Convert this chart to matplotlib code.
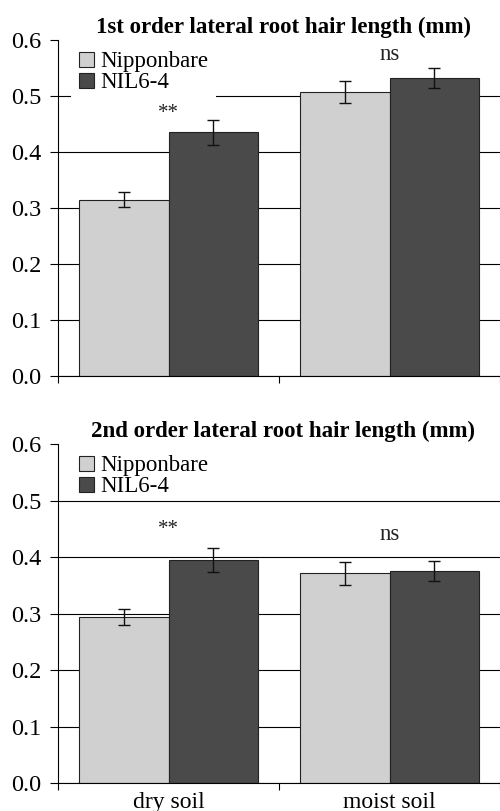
import numpy as np
import matplotlib
matplotlib.use("Agg")
import matplotlib.pyplot as plt
from matplotlib.ticker import FormatStrFormatter

plt.rcParams["font.family"] = ["Liberation Serif", "DejaVu Serif"]

categories = ["dry soil", "moist soil"]
series = ["Nipponbare", "NIL6-4"]
colors = ["#d0d0d0", "#4a4a4a"]

titles = ["1st order lateral root hair length (mm)",
          "2nd order lateral root hair length (mm)"]

# top panel: 1st order
first_means = {"Nipponbare": [0.315, 0.507], "NIL6-4": [0.435, 0.532]}
first_errs = {"Nipponbare": [0.014, 0.019], "NIL6-4": [0.022, 0.018]}
first_marks = ["**", "ns"]
first_mark_y = [0.468, 0.574]

# bottom panel: 2nd order
second_means = {"Nipponbare": [0.294, 0.371], "NIL6-4": [0.395, 0.375]}
second_errs = {"Nipponbare": [0.0145, 0.0195], "NIL6-4": [0.021, 0.0175]}
second_marks = ["**", "ns"]
second_mark_y = [0.448, 0.440]

yticks = [0.0, 0.1, 0.2, 0.3, 0.4, 0.5, 0.6]

fig = plt.figure(figsize=(5.0, 8.11), dpi=100)
ax1 = fig.add_axes([0.116, 0.5364, 0.884, 0.4143])
ax2 = fig.add_axes([0.116, 0.0342, 0.884, 0.4183])

width = 0.403
centers = np.arange(len(categories)) + 0.5


def draw_panel(ax, means, errs, marks, mark_y, title, show_xlabels, legend_bg):
    for k, name in enumerate(series):
        offs = (k - 0.5) * width
        ax.bar(centers + offs, means[name], width, color=colors[k],
               edgecolor="#222222", linewidth=0.8, label=name, zorder=2)
        ax.errorbar(centers + offs, means[name], yerr=errs[name], fmt="none",
                    ecolor="#111111", elinewidth=1.0, capsize=4, capthick=1.0,
                    zorder=3)
    for c, m, y in zip(centers, marks, mark_y):
        fs = 15 if m == "**" else 16.5
        ax.text(c, y, m, ha="center", va="center", fontsize=fs, color="#222222")

    ax.set_xlim(0, len(categories))
    ax.set_ylim(0, 0.6)
    ax.set_yticks(yticks)
    ax.yaxis.set_major_formatter(FormatStrFormatter("%.1f"))
    ax.tick_params(axis="y", length=6, width=0.8, pad=6, labelsize=17.5)
    ax.set_xticks(np.arange(len(categories) + 1))
    ax.set_xticklabels([])
    ax.tick_params(axis="x", which="major", length=5, width=0.8)
    ax.set_xticks(centers, minor=True)
    if show_xlabels:
        ax.set_xticklabels(categories, minor=True)
    ax.tick_params(axis="x", which="minor", length=0, pad=6, labelsize=17)

    ax.grid(axis="y", color="black", linewidth=0.8)
    ax.get_ygridlines()[-1].set_visible(False)
    ax.set_axisbelow(True)
    for s in ["top", "right"]:
        ax.spines[s].set_visible(False)
    ax.spines["left"].set_linewidth(0.8)
    ax.spines["bottom"].set_linewidth(0.8)

    ax.set_title(title, fontsize=16.5, fontweight="bold", pad=5, x=0.51)

    leg = ax.legend(loc="upper left", bbox_to_anchor=(0.03, 0.99), fontsize=16.5,
                    handlelength=0.66, handleheight=0.66, handletextpad=0.25,
                    labelspacing=0.0, borderpad=0.35, borderaxespad=0,
                    frameon=legend_bg, fancybox=False)
    if legend_bg:
        leg.get_frame().set_facecolor("white")
        leg.get_frame().set_edgecolor("none")
        leg.get_frame().set_alpha(1)
    for h in leg.legend_handles:
        h.set_edgecolor("#222222")
        h.set_linewidth(0.8)
    leg.set_zorder(5)


draw_panel(ax1, first_means, first_errs, first_marks, first_mark_y,
           titles[0], False, True)
draw_panel(ax2, second_means, second_errs, second_marks, second_mark_y,
           titles[1], True, False)

fig.savefig("out.png", dpi=100)
